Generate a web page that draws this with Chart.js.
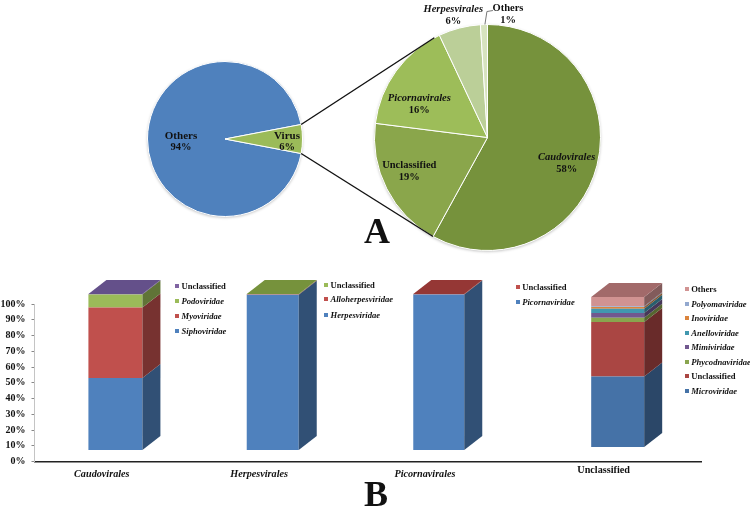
<!DOCTYPE html>
<html>
<head>
<meta charset="utf-8">
<title>Virus composition</title>
<script src="https://cdn.jsdelivr.net/npm/chart.js@4"></script>
<style>
  html, body { margin: 0; padding: 0; background: #fff; overflow: hidden; }
  #page { position: relative; width: 750px; height: 507px; font-family: "Liberation Serif", serif; font-weight: bold; color: #111; }
  canvas { position: absolute; }
  #leaders { position: absolute; left: 0; top: 0; }
  .pie-label { position: absolute; transform: translate(-50%, -50%); font-size: 10.5px; line-height: 12px; white-space: nowrap; }
  .legend-row { position: absolute; transform: translateY(-50%); font-size: 8.6px; line-height: 10px; white-space: nowrap; }
  .legend-box { position: absolute; width: 4px; height: 4px; transform: translateY(-50%); }
  .panel { position: absolute; font-size: 36px; line-height: 36px; }
</style>
</head>
<body>
<div id="page">
  <canvas id="overviewPie"></canvas>
  <canvas id="virusPie"></canvas>
  <canvas id="familyBars"></canvas>
  <svg id="leaders" width="750" height="507"></svg>
</div>
<script>
// --- DATA ---
const overviewLabels = ['Others', 'Virus'];
const overviewValues = [94, 6];
const virusLabels = ['Caudovirales', 'Unclassified', 'Picornavirales', 'Herpesvirales', 'Others'];
const virusValues = [58, 19, 16, 6, 1];

const barCategories = ['Caudovirales', 'Herpesvirales', 'Picornavirales', 'Unclassified'];
const yTicks = [0, 10, 20, 30, 40, 50, 60, 70, 80, 90, 100];

// bottom to top, same order in the names and the values
const caudoNames = ['Siphoviridae', 'Myoviridae', 'Podoviridae', 'Unclassified'];
const caudoValues = [46.2, 45.2, 8.3, 0.3];
const herpesNames = ['Herpesviridae', 'Alloherpesviridae', 'Unclassified'];
const herpesValues = [99.6, 0.2, 0.2];
const picornaNames = ['Picornaviridae', 'Unclassified'];
const picornaValues = [99.7, 0.3];
const unclassNames = ['Microviridae', 'Unclassified', 'Phycodnaviridae', 'Mimiviridae', 'Anelloviridae', 'Inoviridae', 'Polyomaviridae', 'Others'];
const unclassValues = [45.3, 34.8, 2.8, 3.0, 2.8, 1.1, 0.4, 6.0];

// --- STYLE ---
const SERIF = '"Liberation Serif", serif';
const office = ['#4F81BD', '#C0504D', '#9BBB59', '#8064A2'];
const muted = ['#4572A7', '#AA4643', '#89A54E', '#71588F', '#4198AF', '#DB843D', '#93A9CF', '#D19392'];
const herpesColors = ['#4F81BD', '#C0504D', '#9BBB59'];
const picornaColors = ['#4F81BD', '#C0504D'];
const topFaces = ['#64508A', '#76923C', '#953735', '#A26A6A'];

const DEPTH_X = 18, DEPTH_Y = 14;
const barWidths = [54, 52, 51, 53];
const barShiftX = [-2.4, -11.7, -12.3, 0];
const barShiftY = [0, 0, 0, -3];
const labelShiftX = [-16, -25.3, -26.1, -14.1];
const labelShiftY = [0, 0, 0, -4];

function darken(hex, f) {
  const n = parseInt(hex.slice(1), 16);
  const r = Math.round((n >> 16) * f), g = Math.round(((n >> 8) & 255) * f), b = Math.round((n & 255) * f);
  return `rgb(${r},${g},${b})`;
}

// --- PIES ---
// one soft shadow under the whole disc, so the slices keep clean white joins
const softShadow = {
  id: 'softShadow',
  beforeDatasetsDraw(chart) {
    const c = chart.ctx;
    const arc = chart.getDatasetMeta(0).data[0];
    c.save();
    c.shadowColor = 'rgba(0,0,0,0.28)';
    c.shadowBlur = 3;
    c.shadowOffsetY = 1;
    c.fillStyle = '#fff';
    c.beginPath();
    c.arc(arc.x, arc.y, arc.outerRadius, 0, Math.PI * 2);
    c.fill();
    c.restore();
  }
};

function makePie(id, left, top, size, labels, values, colors, rotation) {
  const el = document.getElementById(id);
  el.width = size;
  el.height = size;
  el.style.left = left + 'px';
  el.style.top = top + 'px';
  return new Chart(el, {
    type: 'pie',
    data: { labels: labels, datasets: [{ data: values, backgroundColor: colors, borderColor: '#fff', borderWidth: 1 }] },
    options: {
      responsive: false,
      animation: false,
      rotation: rotation,
      layout: { padding: 4 },
      plugins: { legend: { display: false }, tooltip: { enabled: false } }
    },
    plugins: [softShadow]
  });
}

const overviewChart = makePie('overviewPie', 143, 57, 164, overviewLabels, overviewValues, ['#4F81BD', '#9BBB59'], 100.8);
const virusChart = makePie('virusPie', 370, 20, 235, virusLabels, virusValues,
  ['#76923C', '#8AA64B', '#9DBD59', '#BBCF98', '#D7E3BF'], 0);

// --- STACKED BARS ---
const groups = [
  { names: caudoNames, values: caudoValues, colors: office },
  { names: herpesNames, values: herpesValues, colors: herpesColors },
  { names: picornaNames, values: picornaValues, colors: picornaColors },
  { names: unclassNames, values: unclassValues, colors: muted }
];

const barDatasets = [];
groups.forEach((g, cat) => {
  g.names.forEach((name, i) => {
    barDatasets.push({
      label: name,
      data: barCategories.map((c, k) => (k === cat ? g.values[i] : null)),
      backgroundColor: g.colors[i],
      categoryIndex: cat,
      yAxisID: 'yBars',
      stack: 'all',
      clip: false
    });
  });
});

// the columns sit a little off the ticks in the original
const placeBars = {
  id: 'placeBars',
  afterDatasetsUpdate(chart) {
    chart.data.datasets.forEach((ds, d) => {
      const bar = chart.getDatasetMeta(d).data[ds.categoryIndex];
      bar.x += barShiftX[ds.categoryIndex];
      bar.width = barWidths[ds.categoryIndex];
      bar.y += barShiftY[ds.categoryIndex];
      bar.base += barShiftY[ds.categoryIndex];
    });
  },
  beforeDraw(chart) {
    const items = chart.scales.x.getLabelItems();
    if (items.moved) return;
    items.forEach((it, i) => {
      it.options.translation[0] += labelShiftX[i];
      it.options.translation[1] += labelShiftY[i];
    });
    items.moved = true;
  }
};

function poly(c, pts, fill) {
  c.fillStyle = fill;
  c.beginPath();
  pts.forEach((p, i) => (i ? c.lineTo(p[0], p[1]) : c.moveTo(p[0], p[1])));
  c.closePath();
  c.fill();
}

// side and top faces of the 3D columns
const columnFaces = {
  id: 'columnFaces',
  afterDatasetsDraw(chart) {
    const c = chart.ctx;
    const topBars = [];
    chart.data.datasets.forEach((ds, d) => {
      const cat = ds.categoryIndex;
      const bar = chart.getDatasetMeta(d).data[cat];
      const r = bar.x + bar.width / 2;
      poly(c, [[r, bar.y], [r + DEPTH_X, bar.y - DEPTH_Y], [r + DEPTH_X, bar.base - DEPTH_Y], [r, bar.base]],
        darken(ds.backgroundColor, 0.62));
      topBars[cat] = bar;
    });
    topBars.forEach((bar, cat) => {
      const l = bar.x - bar.width / 2, r = bar.x + bar.width / 2;
      poly(c, [[l, bar.y], [l + DEPTH_X, bar.y - DEPTH_Y], [r + DEPTH_X, bar.y - DEPTH_Y], [r, bar.y]], topFaces[cat]);
    });
  }
};

const barsEl = document.getElementById('familyBars');
barsEl.width = 750;
barsEl.height = 237;
barsEl.style.left = '0px';
barsEl.style.top = '270px';

new Chart(barsEl, {
  type: 'bar',
  data: { labels: barCategories, datasets: barDatasets },
  options: {
    responsive: false,
    animation: false,
    layout: { padding: { top: 34, right: 49 } },
    plugins: { legend: { display: false }, tooltip: { enabled: false } },
    scales: {
      x: {
        stacked: true,
        afterFit(scale) { scale.height = 45.5; },
        border: { color: '#222', width: 1.5 },
        grid: { display: false, drawTicks: false },
        ticks: {
          padding: 7,
          color: '#111',
          maxRotation: 0,
          font: ctx => ({ family: SERIF, size: 10.2, weight: 'bold', style: ctx.index === 3 ? 'normal' : 'italic' })
        }
      },
      y: {
        min: 0,
        max: 100,
        afterFit(scale) { scale.width = 34.5; },
        afterBuildTicks(scale) { scale.ticks = yTicks.map(v => ({ value: v })); },
        border: { color: '#c4c4c4', width: 1 },
        grid: { drawOnChartArea: false, tickLength: 3, tickColor: '#888' },
        ticks: { padding: 6, color: '#111', font: { family: SERIF, size: 10, weight: 'bold' }, callback: v => v + '%' }
      },
      // the front faces are lifted off the axis by the 3D floor
      yBars: { display: false, stacked: true, min: -7.3, max: 93.6 }
    }
  },
  plugins: [placeBars, columnFaces]
});

// --- TEXT OVERLAYS ---
const page = document.getElementById('page');

function addDiv(cls, text, x, y, italic) {
  const d = document.createElement('div');
  d.className = cls;
  d.innerHTML = text;
  d.style.left = x + 'px';
  d.style.top = y + 'px';
  if (italic) d.style.fontStyle = 'italic';
  page.appendChild(d);
}

function pieLabel(name, value, x, y, italic, size) {
  addDiv('pie-label', `<span style="font-size:${size || 10.5}px;${italic ? 'font-style:italic' : ''}">${name}</span>`, x, y, false);
  addDiv('pie-label', value + '%', x, y + 12, false);
}

pieLabel(overviewLabels[0], overviewValues[0], 181, 134.5, false, 11);
pieLabel(overviewLabels[1], overviewValues[1], 287, 135, false, 11);
pieLabel(virusLabels[0], virusValues[0], 566.7, 157, true);
pieLabel(virusLabels[1], virusValues[1], 409.3, 165, false);
pieLabel(virusLabels[2], virusValues[2], 419.3, 98, true);
pieLabel(virusLabels[3], virusValues[3], 453.3, 8.5, true);
pieLabel(virusLabels[4], virusValues[4], 508, 7.5, false);

function addLegend(group, boxX, ys) {
  group.names.forEach((name, i) => {
    const y = ys[ys.length - 1 - i];
    const box = document.createElement('div');
    box.className = 'legend-box';
    box.style.left = (boxX - 2) + 'px';
    box.style.top = y + 'px';
    box.style.background = group.colors[i];
    page.appendChild(box);
    addDiv('legend-row', name, boxX + 4.5, y, name !== 'Unclassified' && name !== 'Others');
  });
}

addLegend(groups[0], 177, [286.3, 301, 316.3, 331]);
addLegend(groups[1], 326, [284.7, 299.3, 314.7]);
addLegend(groups[2], 517.7, [287, 301.7]);
addLegend(groups[3], 686.7, [289, 303.7, 318.3, 332.7, 347.3, 361.7, 376.3, 391]);

addDiv('panel', 'A', 364, 213);
addDiv('panel', 'B', 364, 476);

// --- CONNECTOR LINES ---
const svg = document.getElementById('leaders');

function arcPoint(chart, canvasId, index, useEnd, nudge) {
  const box = document.getElementById(canvasId);
  const arc = chart.getDatasetMeta(0).data[index];
  const a = (useEnd ? arc.endAngle : arc.startAngle) + (nudge || 0);
  return [box.offsetLeft + arc.x + arc.outerRadius * Math.cos(a), box.offsetTop + arc.y + arc.outerRadius * Math.sin(a)];
}

function addLine(points, color, width) {
  const p = document.createElementNS('http://www.w3.org/2000/svg', 'polyline');
  p.setAttribute('points', points.map(q => q.join(',')).join(' '));
  p.setAttribute('fill', 'none');
  p.setAttribute('stroke', color);
  p.setAttribute('stroke-width', width);
  svg.appendChild(p);
}

// wedge corners of the small pie to the Virus slices of the big pie
const virusStart = arcPoint(overviewChart, 'overviewPie', 1, false);
const virusEnd = arcPoint(overviewChart, 'overviewPie', 1, true);
addLine([virusStart, arcPoint(virusChart, 'virusPie', 2, true, -0.05)], '#111', 1.4);
addLine([virusEnd, arcPoint(virusChart, 'virusPie', 0, true)], '#111', 1.4);

// callout for the 1% slice
const tip = arcPoint(virusChart, 'virusPie', 4, false, 0.04);
addLine([tip, [tip[0] + 2, tip[1] - 13], [tip[0] + 8, tip[1] - 14]], '#777', 1);
</script>
</body>
</html>
